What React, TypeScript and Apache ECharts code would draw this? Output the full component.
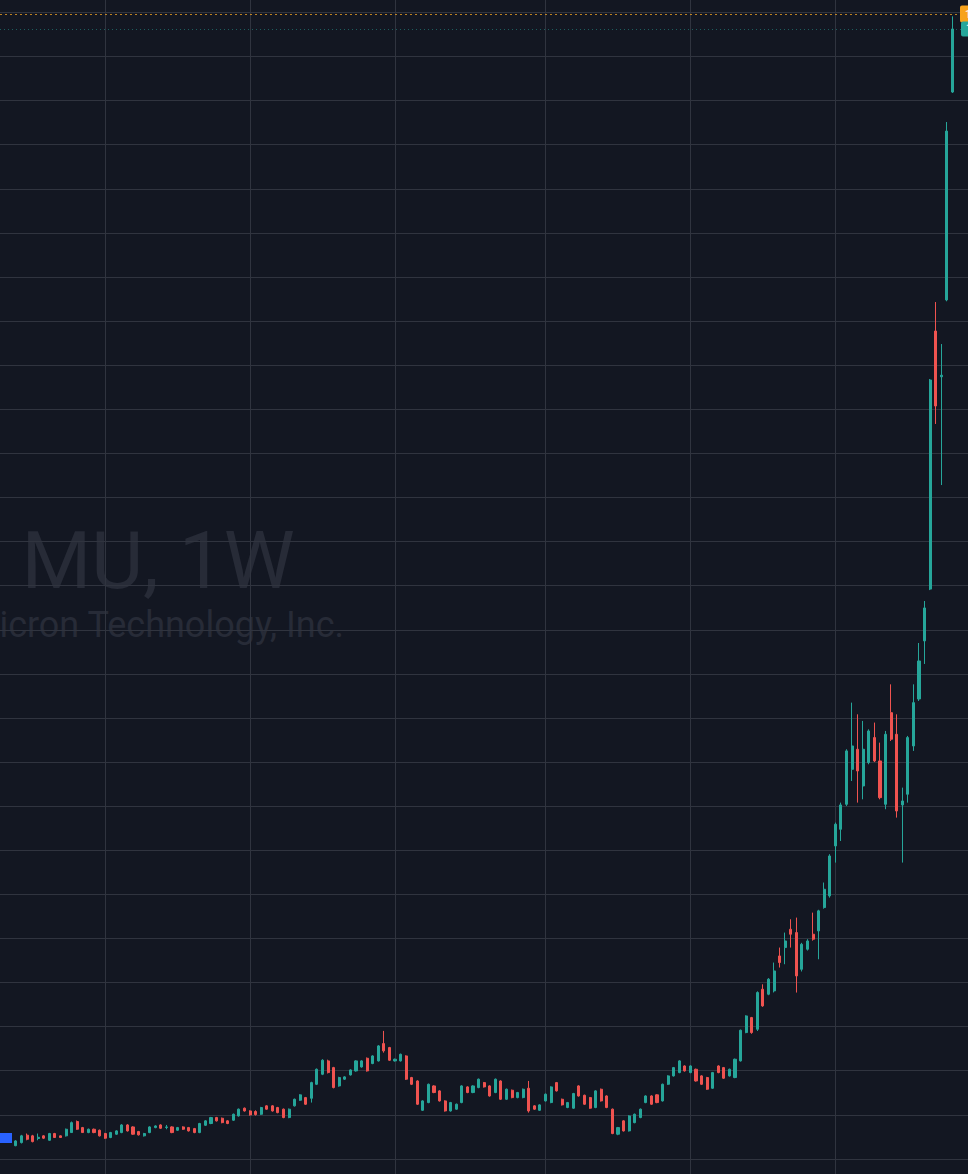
import { useEffect, useRef } from "react";
import * as echarts from "echarts";

// Weekly candles, MU (Micron Technology), week start dates
const weeks = [
  "2023-03-13","2023-03-20","2023-03-27","2023-04-03","2023-04-10","2023-04-17","2023-04-24",
  "2023-05-01","2023-05-08","2023-05-15","2023-05-22","2023-05-29","2023-06-05","2023-06-12",
  "2023-06-19","2023-06-26","2023-07-03","2023-07-10","2023-07-17","2023-07-24","2023-07-31",
  "2023-08-07","2023-08-14","2023-08-21","2023-08-28","2023-09-04","2023-09-11","2023-09-18",
  "2023-09-25","2023-10-02","2023-10-09","2023-10-16","2023-10-23","2023-10-30","2023-11-06",
  "2023-11-13","2023-11-20","2023-11-27","2023-12-04","2023-12-11","2023-12-18","2023-12-25",
  "2024-01-01","2024-01-08","2024-01-15","2024-01-22","2024-01-29","2024-02-05","2024-02-12",
  "2024-02-19","2024-02-26","2024-03-04","2024-03-11","2024-03-18","2024-03-25","2024-04-01",
  "2024-04-08","2024-04-15","2024-04-22","2024-04-29","2024-05-06","2024-05-13","2024-05-20",
  "2024-05-27","2024-06-03","2024-06-10","2024-06-17","2024-06-24","2024-07-01","2024-07-08",
  "2024-07-15","2024-07-22","2024-07-29","2024-08-05","2024-08-12","2024-08-19","2024-08-26",
  "2024-09-02","2024-09-09","2024-09-16","2024-09-23","2024-09-30","2024-10-07","2024-10-14",
  "2024-10-21","2024-10-28","2024-11-04","2024-11-11","2024-11-18","2024-11-25","2024-12-02",
  "2024-12-09","2024-12-16","2024-12-23","2024-12-30","2025-01-06","2025-01-13","2025-01-20",
  "2025-01-27","2025-02-03","2025-02-10","2025-02-17","2025-02-24","2025-03-03","2025-03-10",
  "2025-03-17","2025-03-24","2025-03-31","2025-04-07","2025-04-14","2025-04-21","2025-04-28",
  "2025-05-05","2025-05-12","2025-05-19","2025-05-26","2025-06-02","2025-06-09","2025-06-16",
  "2025-06-23","2025-06-30","2025-07-07","2025-07-14","2025-07-21","2025-07-28","2025-08-04",
  "2025-08-11","2025-08-18","2025-08-25","2025-09-01","2025-09-08","2025-09-15","2025-09-22",
  "2025-09-29","2025-10-06","2025-10-13","2025-10-20","2025-10-27","2025-11-03","2025-11-10",
  "2025-11-17","2025-11-24","2025-12-01","2025-12-08","2025-12-15","2025-12-22","2025-12-29",
  "2026-01-05","2026-01-12","2026-01-19","2026-01-26","2026-02-02","2026-02-09","2026-02-16",
  "2026-02-23","2026-03-02","2026-03-09","2026-03-16","2026-03-23","2026-03-30","2026-04-06",
  "2026-04-13","2026-04-20","2026-04-27","2026-05-04","2026-05-11","2026-05-18","2026-05-25",
  "2026-06-01",
];

const opens = [
  52.0,54.8,61.5,60.9,58.5,60.9,56.9,63.0,60.9,60.9,63.9,73.9,68.4,63.9,66.9,66.0,63.0,59.4,62.4,63.9,
  70.8,69.0,64.8,60.9,63.9,68.4,70.8,68.5,69.0,66.0,69.0,68.4,67.5,63.9,70.5,72.1,77.5,76.9,74.5,75.1,
  79.0,86.0,83.5,83.0,80.5,88.1,88.1,86.6,85.1,77.5,88.1,93.2,95.6,95.0,107.7,116.8,128.9,122.8,106.2,112.3,
  116.2,119.8,123.4,131.3,126.5,128.9,144.6,141.0,128.9,128.9,133.4,113.8,110.7,84.1,91.1,106.2,101.7,92.6,83.5,85.1,
  91.1,105.3,100.2,104.7,109.2,106.2,100.2,110.7,94.1,102.3,95.6,95.6,104.1,88.1,84.1,92.6,91.1,109.2,94.1,86.6,
  86.0,106.2,97.7,95.6,86.6,103.2,97.1,85.1,62.4,74.5,65.4,72.9,77.5,91.1,97.1,98.1,92.6,107.7,115.3,118.3,
  124.3,118.3,121.3,115.3,113.8,104.1,124.3,122.8,115.3,113.8,128.9,154.6,168.2,157.6,193.9,189.4,192.4,224.1,231.7,248.3,
  245.3,212.0,230.2,243.8,246.8,268.0,278.6,323.9,339.0,361.7,393.4,411.6,378.3,399.5,422.2,401.0,361.7,444.8,425.2,361.1,
  370.8,414.6,457.2,509.9,556.9,791.0,749.5,819.2,1007.8,
];

const closes = [
  56.3,60.9,57.8,55.7,59.6,58.8,63.0,59.4,59.4,66.9,72.9,66.9,63.9,66.9,63.9,60.9,58.8,63.9,65.4,70.8,
  65.4,62.4,61.8,63.0,69.0,69.9,67.8,69.0,63.9,68.4,66.9,65.4,63.9,72.1,74.5,77.5,74.5,72.9,72.1,80.5,
  85.1,83.5,79.9,80.2,86.6,85.1,83.5,82.0,77.5,85.1,94.1,98.1,89.6,109.2,121.3,129.5,118.3,104.7,113.8,114.4,
  120.7,128.9,128.9,119.8,133.4,142.5,138.0,129.5,130.4,134.9,112.3,107.7,89.6,92.6,107.7,100.2,92.6,83.5,91.1,89.6,
  106.2,100.2,106.2,112.3,105.3,97.1,112.3,94.1,103.2,95.6,100.2,103.2,83.5,85.1,89.0,98.7,105.3,101.7,89.0,91.1,
  99.3,97.1,89.6,86.0,101.7,92.6,86.6,63.0,68.4,65.4,79.0,80.5,85.1,97.1,89.6,91.1,107.7,115.3,122.8,128.9,
  119.8,124.3,110.7,107.7,103.2,118.3,118.3,113.2,121.3,130.4,156.7,169.7,154.6,190.9,178.8,203.0,210.5,218.1,237.7,243.8,
  206.0,234.7,237.7,239.3,265.0,284.6,314.8,343.6,361.1,410.1,414.6,391.9,411.6,428.2,401.0,367.7,425.2,420.7,355.6,364.7,
  422.2,453.9,491.7,539.8,746.6,723.0,750.9,972.4,1065.0,
];

const lows = [
  51.5,54.0,56.9,55.0,56.9,58.0,56.5,59.0,59.0,60.3,63.5,66.3,63.5,63.3,63.3,60.3,58.2,58.8,61.8,63.3,
  64.8,61.8,61.2,60.3,63.3,67.8,67.2,66.9,63.3,65.4,66.3,64.8,63.3,63.3,69.9,71.5,73.9,72.3,71.5,74.5,
  78.4,82.9,79.3,79.3,79.9,84.5,82.9,81.4,76.9,76.9,87.5,92.6,89.0,91.1,107.0,116.0,117.5,104.0,105.5,111.6,
  115.6,119.2,122.8,119.2,125.9,128.3,136.4,128.9,128.3,128.3,111.6,107.0,88.9,83.5,90.5,99.6,92.0,82.9,82.9,84.5,
  90.5,99.6,99.6,104.1,104.7,96.5,99.6,93.5,93.5,95.0,95.0,95.0,82.0,84.5,83.5,92.0,90.5,101.1,88.4,86.0,
  85.4,96.5,89.0,85.4,86.0,92.0,86.0,62.4,61.5,64.8,64.8,72.3,76.9,90.5,89.0,90.5,92.0,107.1,114.7,117.7,
  119.2,117.7,110.1,107.1,102.6,103.5,117.7,112.6,114.7,113.2,128.3,154.0,153.5,156.0,178.0,188.5,191.0,213.6,216.6,231.7,
  190.9,210.0,229.0,238.0,221.1,267.0,277.0,308.8,328.4,360.2,382.8,363.2,366.2,398.0,400.0,366.2,357.2,419.1,349.6,308.8,
  363.2,410.1,455.4,489.0,556.0,706.7,651.3,818.0,1007.0,
];

const highs = [
  57.0,61.8,63.0,61.8,63.0,61.5,63.6,63.6,61.3,67.5,73.9,74.8,69.0,67.5,67.5,66.6,63.6,64.5,66.0,71.5,
  71.5,69.6,65.4,63.6,69.6,70.5,71.4,70.8,69.6,69.0,69.6,69.0,68.1,72.7,75.1,78.1,78.1,77.5,75.1,81.1,
  85.7,86.6,84.1,84.1,87.2,88.7,88.7,87.2,85.7,85.7,94.7,98.7,96.2,110.0,122.0,130.4,130.0,123.5,114.5,115.0,
  121.3,129.5,129.5,132.0,134.0,143.2,156.1,141.6,131.0,135.5,134.0,114.4,111.3,93.2,108.3,106.8,102.3,93.2,91.7,90.2,
  106.8,105.9,106.8,112.9,109.8,106.8,112.9,111.3,103.8,102.9,100.8,103.8,110.7,88.7,89.6,99.3,105.9,109.8,94.7,91.7,
  99.9,106.8,98.3,96.2,102.3,103.8,97.7,85.7,69.0,75.1,79.6,81.1,85.7,97.7,97.7,98.7,108.3,115.9,123.4,129.5,
  124.9,124.9,121.9,115.9,114.4,118.9,124.9,123.4,121.9,131.0,157.3,170.3,168.8,192.0,198.4,204.0,218.1,231.7,245.3,257.4,
  258.9,236.0,239.3,263.4,266.0,290.7,316.4,345.1,363.2,411.6,453.9,443.3,437.3,429.7,435.8,417.6,428.2,470.5,443.3,376.8,
  423.7,470.5,508.0,546.1,747.5,817.3,779.2,980.6,1076.5,
];

// Dates where the time scale draws its vertical grid lines (Jan / Jul)
const timeGridDates = ["2023-07-03", "2024-01-01", "2024-07-01", "2025-01-06", "2025-07-07", "2026-01-05"];

// Visible price range of the pane and its grid step
const priceMin = 26.3;
const priceMax = 1091.3;
const priceStep = 40;

// Orange alert line level
const alertLevel = 1078.5;

const symbolTitle = "MU, 1W";
const companyName = "Micron Technology, Inc.";

const UP = "#26a69a";
const DOWN = "#ef5350";
const BG = "#131722";
const GRID = "#30343f";
const WATERMARK = "#272b37";

export default function App() {
  const ref = useRef<HTMLDivElement>(null);

  useEffect(() => {
    document.body.style.margin = "0";
    document.body.style.background = BG;
    const el = ref.current;
    if (!el) return;
    const chart = echarts.init(el, null, { renderer: "svg" });

    const candles = weeks.map((d, i) => [d, opens[i], closes[i], lows[i], highs[i]]);
    const lastClose = closes[closes.length - 1];
    const fmt = (v: number) =>
      v.toLocaleString("en-US", { minimumFractionDigits: 2, maximumFractionDigits: 2 });

    chart.setOption({
      animation: false,
      backgroundColor: BG,
      grid: { left: 0, right: 0, top: 0, bottom: 0 },
      xAxis: {
        type: "time",
        min: "2023-02-21 00:00:00",
        max: "2026-06-20 13:00:00",
        axisLine: { show: false },
        axisTick: { show: false },
        axisLabel: { show: false },
        splitLine: { show: false },
      },
      yAxis: {
        type: "value",
        position: "right",
        min: priceMin,
        max: priceMax,
        minInterval: priceStep,
        maxInterval: priceStep,
        axisLine: { show: false },
        axisTick: { show: false },
        axisLabel: { show: false },
        splitLine: {
          show: true,
          showMinLine: false,
          showMaxLine: false,
          lineStyle: { color: GRID, width: 1 },
        },
      },
      graphic: [
        {
          type: "text",
          z: 0,
          x: 158,
          y: 561,
          silent: true,
          style: {
            text: symbolTitle,
            fill: WATERMARK,
            fontSize: 80,
            fontFamily: "Roboto",
            textAlign: "center",
            textVerticalAlign: "middle",
            align: "center",
            verticalAlign: "middle",
          },
        },
        {
          type: "text",
          z: 0,
          x: 156,
          y: 625,
          silent: true,
          style: {
            text: companyName,
            fill: WATERMARK,
            fontSize: 36,
            fontFamily: "Roboto",
            textAlign: "center",
            textVerticalAlign: "middle",
            align: "center",
            verticalAlign: "middle",
          },
        },
        {
          type: "rect",
          z: 10,
          silent: true,
          shape: { x: 0, y: 1133, width: 12, height: 10 },
          style: { fill: "#2962ff" },
        },
      ],
      series: [
        {
          type: "line",
          data: [],
          z: 1,
          silent: true,
          markLine: {
            silent: true,
            z: 1,
            symbol: ["none", "none"],
            label: { show: false },
            lineStyle: { color: GRID, type: "solid", width: 1 },
            data: timeGridDates.map((d) => ({ xAxis: echarts.time.parse(d).getTime() })),
          },
        },
        {
          type: "candlestick",
          z: 3,
          barWidth: 2.6,
          data: candles,
          itemStyle: {
            color: UP,
            color0: DOWN,
            borderColor: UP,
            borderColor0: DOWN,
            borderWidth: 1,
          },
          markLine: {
            silent: true,
            z: 6,
            symbol: ["none", "none"],
            data: [
              {
                yAxis: alertLevel,
                lineStyle: { color: "rgba(245,166,35,0.75)", type: [2, 3], width: 1 },
                label: {
                  show: true,
                  position: "end",
                  distance: -8,
                  formatter: () => fmt(alertLevel),
                  color: "#ffffff",
                  backgroundColor: "#f7a21b",
                  padding: [3, 5],
                  borderRadius: 2,
                  fontSize: 11,
                  fontFamily: "Roboto",
                },
              },
              {
                yAxis: lastClose,
                lineStyle: { color: "rgba(38,166,154,0.5)", type: [1, 3], width: 1 },
                label: {
                  show: true,
                  position: "end",
                  distance: -7,
                  formatter: () => fmt(lastClose),
                  color: "#ffffff",
                  backgroundColor: UP,
                  padding: [2, 5],
                  borderRadius: 2,
                  fontSize: 11,
                  fontFamily: "Roboto",
                },
              },
            ],
          },
        },
      ],
    });

    return () => chart.dispose();
  }, []);

  return (
    <div
      ref={ref}
      style={{ position: "absolute", left: 0, top: 0, width: 968, height: 1174, background: BG }}
    />
  );
}
